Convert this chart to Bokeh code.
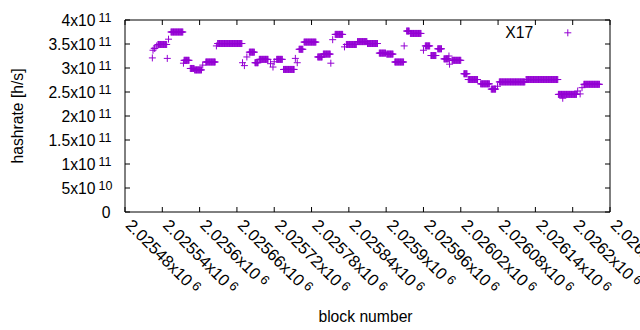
import math
from bokeh.plotting import figure
from bokeh.models import Range1d
from bokeh.core.properties import value
from bokeh.embed import file_html
from bokeh.resources import INLINE

# ---- data: runs of consecutive blocks with a constant hashrate estimate ----
run_first = [2025524, 2025525, 2025527, 2025531, 2025533, 2025548, 2025550, 2025554,
             2025574, 2025575, 2025585, 2025592, 2025605, 2025610, 2025627, 2025629,
             2025669, 2025672, 2025676, 2025680, 2025689, 2025696, 2025714, 2025718,
             2025720, 2025724, 2025735, 2025754, 2025757, 2025760, 2025768, 2025790,
             2025799, 2025811, 2025814, 2025818, 2025833, 2025836, 2025854, 2025870,
             2025889, 2025901, 2025914, 2025929, 2025933, 2025939, 2025960, 2025963,
             2025972, 2025983, 2025993, 2026001, 2026002, 2026006, 2026025, 2026032,
             2026052, 2026069, 2026079, 2026082, 2026125, 2026177, 2026184, 2026208,
             2026212, 2026215, 2026218]
run_last = [2025524, 2025525, 2025528, 2025531, 2025547, 2025548, 2025550, 2025573,
            2025574, 2025583, 2025591, 2025603, 2025605, 2025625, 2025627, 2025668,
            2025669, 2025672, 2025676, 2025688, 2025694, 2025710, 2025714, 2025718,
            2025720, 2025733, 2025752, 2025754, 2025757, 2025766, 2025787, 2025797,
            2025810, 2025811, 2025814, 2025830, 2025833, 2025852, 2025869, 2025886,
            2025899, 2025911, 2025928, 2025929, 2025937, 2025956, 2025960, 2025970,
            2025980, 2025989, 2026000, 2026001, 2026002, 2026020, 2026030, 2026047,
            2026066, 2026076, 2026079, 2026123, 2026176, 2026206, 2026184, 2026208,
            2026212, 2026215, 2026243]
run_rate = [3.21, 3.37, 3.41, 3.46, 3.49, 3.20, 3.60, 3.75,
            3.10, 3.16, 2.99, 2.96, 3.06, 3.125, 3.46, 3.51,
            3.11, 3.05, 3.23, 3.33, 3.11, 3.18, 3.09, 3.02,
            3.13, 3.18, 2.97, 3.20, 3.11, 3.39, 3.54, 3.23,
            3.29, 3.10, 3.59, 3.70, 3.44, 3.49, 3.55, 3.51,
            3.31, 3.29, 3.125, 3.46, 3.77, 3.72, 3.37, 3.46,
            3.26, 3.40, 3.19, 3.25, 3.08, 3.16, 2.88, 2.76,
            2.67, 2.56, 2.62, 2.71, 2.76, 2.45, 2.37, 2.52,
            2.46, 2.59, 2.66]
rate_unit = 1e11
series_name = "X17"
x_title = "block number"
y_title = "hashrate [h/s]"

x_ticks = [2025480, 2025540, 2025600, 2025660, 2025720, 2025780, 2025840,
           2025900, 2025960, 2026020, 2026080, 2026140, 2026200, 2026260]
x_tick_mant = ["2.02548", "2.02554", "2.0256", "2.02566", "2.02572", "2.02578", "2.02584",
               "2.0259", "2.02596", "2.02602", "2.02608", "2.02614", "2.0262", "2.02626"]
x_tick_exp = ["6"] * len(x_ticks)
y_ticks = [0, 0.5e11, 1e11, 1.5e11, 2e11, 2.5e11, 3e11, 3.5e11, 4e11]
y_tick_mant = ["0", "5", "1", "1.5", "2", "2.5", "3", "3.5", "4"]
y_tick_exp = ["", "10", "11", "11", "11", "11", "11", "11", "11"]

xs, ys = [], []
for a, b, r in zip(run_first, run_last, run_rate):
    for blk in range(a, b + 1):
        xs.append(blk)
        ys.append(r * rate_unit)

# ---- layout (canvas pixels) ----
W, H = 640, 330
FL, FR, FT, FB = 124.5, 609.5, 19.5, 211.5      # plot box edges
FONT = "Liberation Sans"
FS = 15.7
XFS = 16.5
SUP = 12.5
XSUP = 13
PURPLE = "#9400D3"
W_CHARS = {c: 556 for c in "0123456789"}
W_CHARS.update({".": 278, "x": 500})


def text_w(s, size):
    return sum(W_CHARS.get(ch, 556) for ch in s) * size / 1000.0


x0, x1 = x_ticks[0], x_ticks[-1]
y0, y1 = y_ticks[0], y_ticks[-1]
kx = (FR - FL) / (x1 - x0)   # px per block
ky = (FB - FT) / (y1 - y0)   # px per h/s
x_lo = x0 - FL / kx
x_hi = x_lo + W / kx
y_hi = y1 + FT / ky
y_lo = y_hi - H / ky


def dx(px):
    return px / kx


def dy(px):
    return px / ky


p = figure(width=W, height=H, output_backend="svg", toolbar_location=None,
           x_range=Range1d(x_lo, x_hi), y_range=Range1d(y_lo, y_hi),
           x_axis_location=None, y_axis_location=None, min_border=0)
p.outline_line_color = None
p.background_fill_color = "white"
p.border_fill_color = "white"
p.grid.visible = False

# plot box
p.quad(left=[x0], right=[x1], bottom=[y0], top=[y1], fill_color=None,
       line_color="black", line_width=1)
# inward ticks, mirrored on all four sides
TL = 5
p.segment(x0=x_ticks, y0=[y0] * len(x_ticks), x1=x_ticks, y1=[y0 + dy(TL)] * len(x_ticks),
          line_color="black", line_width=1)
p.segment(x0=x_ticks, y0=[y1] * len(x_ticks), x1=x_ticks, y1=[y1 - dy(TL)] * len(x_ticks),
          line_color="black", line_width=1)
p.segment(x0=[x0] * len(y_ticks), y0=y_ticks, x1=[x0 + dx(TL)] * len(y_ticks), y1=y_ticks,
          line_color="black", line_width=1)
p.segment(x0=[x1] * len(y_ticks), y0=y_ticks, x1=[x1 - dx(TL)] * len(y_ticks), y1=y_ticks,
          line_color="black", line_width=1)

# data
p.scatter(xs, ys, marker="cross", size=7, line_color=PURPLE, line_width=1)

txt = dict(text_font=value(FONT), text_color="black")

# y tick labels: mantissa "x10" + superscript exponent
ym_x, ym_y, ym_t, ys_x, ys_y, ys_t = [], [], [], [], [], []
for v, m, e in zip(y_ticks, y_tick_mant, y_tick_exp):
    if e:
        ym_x.append(x0 - dx(29.5)); ym_y.append(v); ym_t.append(m + "x10")
        ys_x.append(x0 - dx(26.5)); ys_y.append(v + dy(2.5)); ys_t.append(e)
    else:
        ym_x.append(x0 - dx(14.5)); ym_y.append(v); ym_t.append(m)
p.text(x=ym_x, y=ym_y, text=ym_t, text_align="right", text_baseline="middle",
       text_font_size=value(f"{FS}px"), **txt)
p.text(x=ys_x, y=ys_y, text=ys_t, text_align="left", text_baseline="middle",
       text_font_size=value(f"{SUP}px"), **txt)

# x tick labels rotated by -45 degrees
ang = -math.pi / 4
c = math.cos(math.pi / 4)
BX, BY = 4, 10
xm_x, xm_y, xm_t, xs_x, xs_y, xs_t = [], [], [], [], [], []
for v, m, e in zip(x_ticks, x_tick_mant, x_tick_exp):
    main = m + "x10"
    xm_x.append(v + dx(BX)); xm_y.append(y0 - dy(BY)); xm_t.append(main)
    L = text_w(main, XFS) + 3.5
    r = 2.5
    xs_x.append(v + dx(BX + c * (L + r))); xs_y.append(y0 - dy(BY + c * (L - r))); xs_t.append(e)
p.text(x=xm_x, y=xm_y, text=xm_t, angle=ang, text_align="left", text_baseline="middle",
       text_font_size=value(f"{XFS}px"), **txt)
p.text(x=xs_x, y=xs_y, text=xs_t, angle=ang, text_align="left", text_baseline="middle",
       text_font_size=value(f"{XSUP}px"), **txt)

# axis titles
p.text(x=[x0 - dx(FL - 16.7)], y=[(y0 + y1) / 2], text=[y_title], angle=math.pi / 2,
       text_align="center", text_baseline="middle", text_font_size=value(f"{FS}px"), **txt)
p.text(x=[(x0 + x1) / 2 - dx(2)], y=[y0 - dy(316 - FB)], text=[x_title],
       text_align="center", text_baseline="middle", text_font_size=value(f"{FS}px"), **txt)

# key: title then sample, top right (gnuplot style)
p.text(x=[x1 - dx(FR - 532.7)], y=[y1 - dy(31.7 - FT)], text=[series_name],
       text_align="right", text_baseline="middle", text_font_size=value(f"{FS}px"), **txt)
p.scatter([x1 - dx(FR - 567.3)], [y1 - dy(32.3 - FT)], marker="cross", size=7,
          line_color=PURPLE, line_width=1)

open("out.html", "w").write(file_html(p, INLINE))
